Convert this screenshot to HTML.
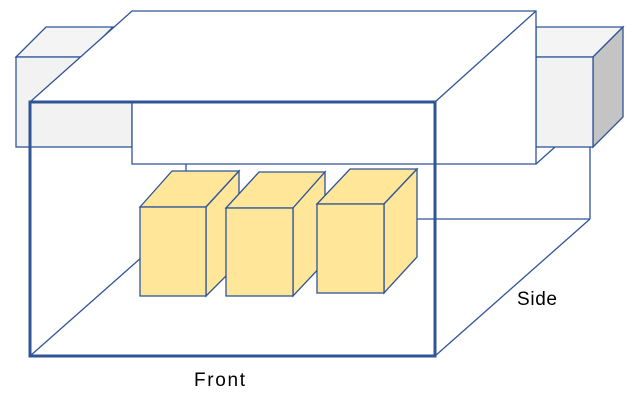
<!DOCTYPE html>
<html><head><meta charset="utf-8"><style>html,body{margin:0;padding:0;background:#fff}svg{display:block}</style></head>
<body>
<svg width="637" height="408" viewBox="0 0 637 408" xmlns="http://www.w3.org/2000/svg">
<g stroke="#2f5597" stroke-width="1.3" stroke-linejoin="miter">
<polygon points="16,57 46,27 113,27 83,57" fill="#f4f4f4"/>
<rect x="16" y="57" width="116" height="90" fill="#f2f2f2"/>
<polygon points="536,27 623,27 593,57 536,57" fill="#f4f4f4"/>
<polygon points="593,57 623,27 623,117 593,147" fill="#c4c4c4"/>
<rect x="536" y="57" width="57" height="90" fill="#f2f2f2"/>
<polygon points="30,102 132,11 536,11 536,164 132,164 132,102" fill="#fff"/>
<line x1="536" y1="164" x2="555" y2="147"/>
<line x1="30" y1="356" x2="185" y2="219"/>
<line x1="186" y1="164" x2="186" y2="219"/>
<line x1="185" y1="219" x2="590" y2="219"/>
<line x1="590" y1="147" x2="590" y2="219"/>
<line x1="435" y1="356" x2="590" y2="219"/>
<line x1="435" y1="102" x2="536" y2="11"/>
<g fill="#ffe699">
<polygon points="140,207 172,171 239,171 206,207"/>
<polygon points="206,207 239,171 239,263 206,296"/>
<rect x="140" y="207" width="66" height="89"/>
<polygon points="226,208 259,172 325,172 293,208"/>
<polygon points="293,208 325,172 325,262 293,296"/>
<rect x="226" y="208" width="67" height="88"/>
<polygon points="317,204 350,169 417,169 384,204"/>
<polygon points="384,204 417,169 417,257 384,293"/>
<rect x="317" y="204" width="67" height="89"/>
</g>
<rect x="30" y="102" width="405" height="254" fill="none" stroke-width="3"/>
</g>
<g font-family="Liberation Sans, sans-serif" font-size="19" fill="#000">
<text x="194" y="386" textLength="51">Front</text>
<text x="517" y="305" textLength="40">Side</text>
</g>
</svg>
</body></html>
